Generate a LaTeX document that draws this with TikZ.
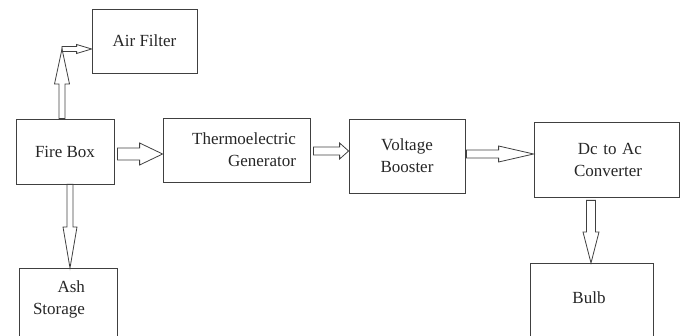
\documentclass[tikz,border=0pt]{standalone}
\usepackage{fontspec}
\setmainfont{Liberation Serif}
\usetikzlibrary{calc,positioning}
\tikzset{every picture/.style={line width=0.8pt}}
\tikzset{
  box/.style 2 args={draw=black!75, minimum width=#1pt, minimum height=#2pt, inner sep=0pt, align=center},
  blockarrow/.style n args={3}{draw=black!75, line join=miter, to path={
    let \p1=(\tikztostart), \p2=(\tikztotarget), \p3=($(\p2)!#3pt!(\p1)$) in
    ($(\p1)!#1pt!90:(\p2)$) -- ($(\p3)!#1pt!90:(\p2)$) -- ($(\p3)!#2pt!90:(\p2)$) -- (\p2)
    -- ($(\p3)!#2pt!-90:(\p2)$) -- ($(\p3)!#1pt!-90:(\p2)$) -- ($(\p1)!#1pt!-90:(\p2)$) -- cycle}},
}

\begin{document}
\begin{tikzpicture}[x=1pt, y=-1pt, font=\fontsize{17}{22}\selectfont, text=black!85]
    \clip (0,0) rectangle (682,336);

    % === Blocks ===
    \node[box={105}{64}] (air) at (144.5,41) {Air Filter};
    \node[box={98}{65}] (fire) at (65,151.5) {Fire Box};
    \node[box={147}{64}, align=right, text width=119pt, inner xsep=14pt] (teg) at (236.5,150) {Thermoelectric\\Generator};
    \node[box={116}{74}] (booster) at (407,156) {Voltage\\Booster};
    \node[box={145}{75}, align=right, text width=71pt, inner xsep=37pt] (conv) at (606.5,159.5) {Dc to Ac\\Converter};

    % boxes cut off by the bottom edge
    \node[box={98}{100}, anchor=north] (ash) at (68,268) {};
    \node[align=right, inner sep=0pt] (ashtxt) at (59,299) {Ash\\Storage};
    \node[box={123}{100}, anchor=north] (bulb) at (591.5,263) {};
    \node[inner sep=0pt] (bulbtxt) at (589,297.5) {Bulb};

    % === Arrows ===
    \coordinate (up0) at ([xshift=-3pt]fire.north);
    \coordinate (bend) at (62,49);
    \draw[blockarrow={3}{7.5}{35}] (up0) to (bend);
    \draw[blockarrow={2.5}{4.5}{15}] (bend) to (bend -| air.west);

    \coordinate (f1) at ([xshift=3pt,yshift=-2.5pt]fire.east);
    \draw[blockarrow={6}{11}{23}] (f1) to (f1 -| teg.west);

    \coordinate (t1) at ([xshift=3pt,yshift=-1pt]teg.east);
    \draw[blockarrow={4}{8}{9}] (t1) to (t1 -| booster.west);

    \coordinate (v1) at ([xshift=1pt,yshift=2pt]booster.east);
    \draw[blockarrow={4}{8}{35}] (v1) to (v1 -| conv.west);

    % down to ash and bulb
    \coordinate (d1) at ([xshift=5pt]fire.south);
    \draw[blockarrow={3}{7}{41}] (d1) to (d1 |- ash.north);

    \coordinate (c1) at ([xshift=-15.5pt,yshift=-3pt]conv.south);
    \draw[blockarrow={4.5}{8}{31}] (c1) to (c1 |- bulb.north);
\end{tikzpicture}
\end{document}
